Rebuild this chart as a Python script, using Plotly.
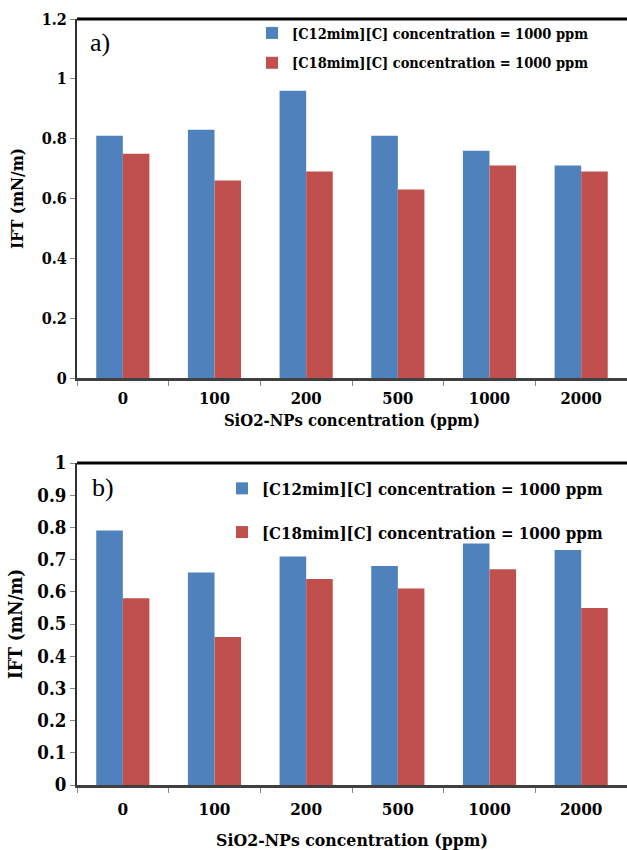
import plotly.graph_objects as go

categories = ["0", "100", "200", "500", "1000", "2000"]
a_c12 = [0.81, 0.83, 0.96, 0.81, 0.76, 0.71]
a_c18 = [0.75, 0.66, 0.69, 0.63, 0.71, 0.69]
b_c12 = [0.79, 0.66, 0.71, 0.68, 0.75, 0.73]
b_c18 = [0.58, 0.46, 0.64, 0.61, 0.67, 0.55]
name_c12 = "[C12mim][C] concentration = 1000 ppm"
name_c18 = "[C18mim][C] concentration = 1000 ppm"
x_title = "SiO2-NPs concentration (ppm)"
y_title = "IFT (mN/m)"

BLUE = "#4F81BD"
RED = "#C0504D"
FBOLD = "DejaVu Serif Condensed"
FREG = "Liberation Serif"
W, H = 627, 850


def fbold(size):
    return dict(family=FBOLD, size=size, color="black", weight="bold")


fig = go.Figure()
fig.add_trace(go.Bar(x=categories, y=a_c12, name=name_c12, marker_color=BLUE,
                     xaxis="x", yaxis="y", legend="legend", legendgroup="a1"))
fig.add_trace(go.Bar(x=categories, y=a_c18, name=name_c18, marker_color=RED,
                     xaxis="x", yaxis="y", legend="legend", legendgroup="a2"))
fig.add_trace(go.Bar(x=categories, y=b_c12, name=name_c12, marker_color=BLUE,
                     xaxis="x2", yaxis="y2", legend="legend2", legendgroup="b1"))
fig.add_trace(go.Bar(x=categories, y=b_c18, name=name_c18, marker_color=RED,
                     xaxis="x2", yaxis="y2", legend="legend2", legendgroup="b2"))

x0 = 77 / W
ya = [1 - 378 / H, 1 - 19 / H]
yb = [1 - 785 / H, 1 - 463 / H]


def xaxis_cfg(anchor, lab_standoff, title_standoff, tsize, ttsize):
    return dict(domain=[x0, 1], anchor=anchor, type="category", tickson="boundaries",
                ticks="outside", ticklen=5, tickcolor="#888888", showline=True,
                linecolor="#404040", linewidth=3, showgrid=False, zeroline=False,
                ticklabelstandoff=lab_standoff,
                tickfont=fbold(tsize),
                title=dict(text=x_title, font=fbold(ttsize), standoff=title_standoff))


common_y = dict(ticks="outside", ticklen=5, tickcolor="#888888", showline=True,
                linecolor="#303030", linewidth=2, showgrid=False, zeroline=False,
                automargin=False)

fig.update_layout(
    width=W, height=H, margin=dict(l=0, r=0, t=0, b=0),
    paper_bgcolor="white", plot_bgcolor="white",
    barmode="group", bargap=0.42, bargroupgap=0.0,
    xaxis=xaxis_cfg("y", 3, 8, 16.5, 16.5),
    xaxis2=xaxis_cfg("y2", 7, 17, 17, 17.5),
    yaxis=dict(domain=ya, anchor="x", range=[0, 1.2], dtick=0.2,
               tickfont=fbold(16),
               title=dict(text=y_title, font=fbold(17), standoff=14),
               **common_y),
    yaxis2=dict(domain=yb, anchor="x2", range=[0, 1.0], dtick=0.1,
                tickfont=fbold(18.5),
                title=dict(text=y_title, font=fbold(18.5), standoff=10),
                **common_y),
    legend=dict(x=252 / W, y=1 - 17 / H, xanchor="left", yanchor="top",
                bgcolor="rgba(0,0,0,0)", tracegroupgap=8, itemwidth=30,
                font=fbold(14.5)),
    legend2=dict(x=222 / W, y=1 - 471 / H, xanchor="left", yanchor="top",
                 bgcolor="rgba(0,0,0,0)", tracegroupgap=19, itemwidth=30,
                 font=fbold(16.7)),
    annotations=[
        dict(text="a)", x=88 / W, y=1 - 43 / H, xref="paper", yref="paper",
             xanchor="left", yanchor="middle", showarrow=False,
             font=dict(family=FREG, size=26, color="black")),
        dict(text="b)", x=90 / W, y=1 - 487 / H, xref="paper", yref="paper",
             xanchor="left", yanchor="middle", showarrow=False,
             font=dict(family=FREG, size=26, color="black")),
    ],
    shapes=[
        dict(type="line", xref="paper", yref="paper", x0=x0, x1=1, y0=ya[1], y1=ya[1],
             line=dict(color="black", width=3)),
        dict(type="line", xref="paper", yref="paper", x0=x0, x1=1, y0=yb[1], y1=yb[1],
             line=dict(color="black", width=3)),
    ],
)
fig.update_traces(marker_line_width=0)

fig.write_html("out.html")
